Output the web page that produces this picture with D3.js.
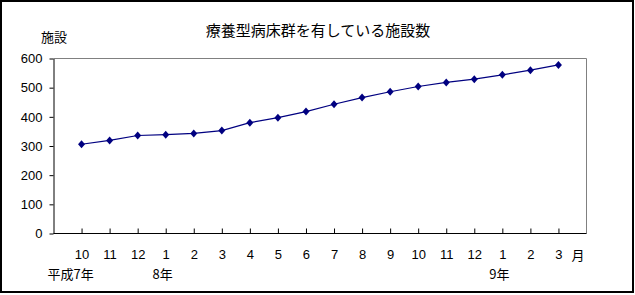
<!DOCTYPE html>
<html>
<head>
<meta charset="utf-8">
<script src="https://cdn.jsdelivr.net/npm/d3@7"></script>
<style>
body { margin: 0; background: #fff; }
text { font-family: "Liberation Sans", "Noto Sans CJK JP", sans-serif; fill: #000; }
.cjk { font-family: "Noto Sans CJK JP", sans-serif; }
</style>
</head>
<body>
<div id="chart"></div>
<script>
// month labels along the x axis
var months = ["10","11","12","1","2","3","4","5","6","7","8","9","10","11","12","1","2","3"];
// number of facilities per month
var counts = [306, 319, 336, 339, 343, 353, 380, 397, 418, 443, 466, 486, 504, 518, 529, 544, 560, 578];
var yearLabels = [{i: 0, text: "平成7年"}, {i: 3, text: "8年"}, {i: 15, text: "9年"}];
var yTicks = [0, 100, 200, 300, 400, 500, 600];

var W = 635, H = 295;
var plotL = 53.5, plotR = 586.5, plotT = 58.5, plotB = 233.5;

var svg = d3.select("#chart").append("svg")
    .attr("width", W)
    .attr("height", H);

svg.append("rect")
    .attr("x", 1).attr("y", 1)
    .attr("width", 632).attr("height", 291)
    .attr("fill", "#fff")
    .attr("stroke", "#000")
    .attr("stroke-width", 2);

var idx = months.map((d, i) => i);
var x = d3.scalePoint()
    .domain(idx)
    .range([plotL, plotR])
    .padding(1);

var y = d3.scaleLinear()
    .domain([0, 600])
    .range([plotB, plotT]);

// plot frame: grey top/right
svg.append("path")
    .attr("d", "M" + plotL + "," + plotT + "H" + plotR + "V" + plotB)
    .attr("fill", "none")
    .attr("stroke", "#808080");

// y axis
var yAxis = svg.append("g")
    .attr("transform", "translate(" + plotL + ",0)")
    .call(d3.axisLeft(y).tickValues(yTicks).tickSize(4).tickSizeOuter(0).tickPadding(7));
yAxis.selectAll("text").style("font-size", "13px");
yAxis.selectAll("path, line").attr("stroke", "#000");

// x axis, ticks pointing up
var xAxis = svg.append("g")
    .attr("transform", "translate(0," + plotB + ")")
    .call(d3.axisBottom(x).tickSize(-5).tickSizeOuter(0).tickFormat(i => months[i]));
xAxis.select(".domain").attr("d", "M" + plotL + ",0H" + plotR);
xAxis.selectAll("text").style("font-size", "13px").attr("y", 16).attr("dy", "0.71em");
xAxis.selectAll("path, line").attr("stroke", "#000");

svg.append("text")
    .attr("class", "cjk")
    .attr("x", 578).attr("y", 260)
    .attr("text-anchor", "middle")
    .style("font-size", "13px")
    .text("月");

svg.selectAll(".year")
    .data(yearLabels)
    .enter().append("text")
    .attr("class", "cjk year")
    .attr("x", d => d.i === 0 ? x(d.i) - 11 : x(d.i) - 3)
    .attr("y", 279)
    .attr("text-anchor", "middle")
    .style("font-size", "13px")
    .text(d => d.text);

// title and unit
svg.append("text")
    .attr("class", "cjk")
    .attr("x", 318).attr("y", 36)
    .attr("text-anchor", "middle")
    .style("font-size", "15px")
    .text("療養型病床群を有している施設数");

svg.append("text")
    .attr("class", "cjk")
    .attr("x", 54).attr("y", 42)
    .attr("text-anchor", "middle")
    .style("font-size", "13px")
    .text("施設");

// line
var line = d3.line()
    .x((d, i) => x(i))
    .y(d => y(d));

svg.append("path")
    .datum(counts)
    .attr("fill", "none")
    .attr("stroke", "#000080")
    .attr("stroke-width", 1.2)
    .attr("d", line);

svg.selectAll(".pt")
    .data(counts)
    .enter().append("path")
    .attr("class", "pt")
    .attr("transform", (d, i) => "translate(" + x(i) + "," + y(d) + ")")
    .attr("d", "M0,-4L3.5,0L0,4L-3.5,0Z")
    .attr("fill", "#000080");
</script>
</body>
</html>
